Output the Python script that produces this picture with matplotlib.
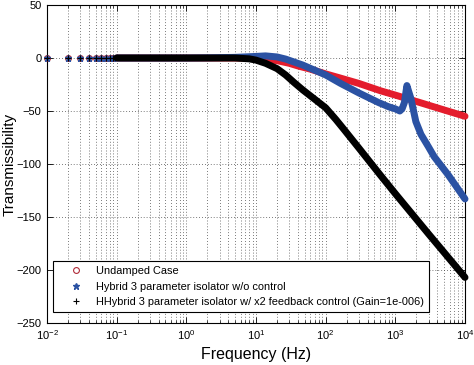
import numpy as np
import matplotlib
matplotlib.use("Agg")
import matplotlib.pyplot as plt

plt.rcParams.update({
    "font.family": ["Liberation Sans", "DejaVu Sans"],
    "mathtext.default": "regular",
    "font.size": 8,
})

# ---- data ----------------------------------------------------------------
f_low = [0.01, 0.02, 0.03, 0.04, 0.05, 0.06, 0.07, 0.08, 0.09, 0.1]

f_undamped = f_low + [0.2, 0.5, 1, 2, 5, 8, 10, 15, 20, 30, 40, 60, 100, 164,
                      300, 618, 1000, 2000, 5000, 10000]
t_undamped = [0] * 10 + [0, 0, 0, 0, 0, -0.2, -0.5, -1.5, -2.5, -5, -7.5, -10.5,
                         -15, -19, -24, -31, -35, -41, -49, -55]

f_hybrid = f_low + [0.2, 0.5, 1, 2, 5, 10, 13.7, 20, 26.6, 46.7, 100, 164, 300,
                    573, 800, 1000, 1160, 1250, 1350, 1420, 1466, 1530, 1670,
                    1970, 2330, 3000, 3600, 5700, 10000]
t_hybrid = [0] * 10 + [0, 0, 0, 0.2, 0.6, 1.5, 2, 1, -1, -6.6, -16, -24, -33,
                       -42, -46, -48, -50, -48, -42, -32, -26, -30, -38,
                       -60, -72, -84, -93, -110, -133]

f_control = f_low + [0.2, 0.5, 1, 2, 5, 8, 10, 13.7, 20, 26.6, 35, 46.7, 70,
                     100, 140, 181, 300, 618, 1000, 3000, 10000]
t_control = [0] * 10 + [0, 0, 0, 0, 0, -0.8, -2, -5, -10, -16, -23, -30, -39,
                        -47, -58, -67, -85, -111, -128, -166, -207]

labels = ["Undamped Case",
          "Hybrid 3 parameter isolator w/o control",
          "HHybrid 3 parameter isolator w/ x2 feedback control (Gain=1e-006)"]

# ---- figure ---------------------------------------------------------------
fig = plt.figure(figsize=(4.74, 3.65), dpi=100)
ax = fig.add_axes([0.0992, 0.1151, 0.8818, 0.8712])

series = [
    (f_undamped, t_undamped, "#e41c2c", dict(marker="o", mfc="none", mec="#b02a38", ms=4.2, mew=0.8)),
    (f_hybrid, t_hybrid, "#2b52a3", dict(marker="*", color="#2b52a3", ms=4.8)),
    (f_control, t_control, "#000000", dict(marker="+", color="#000000", ms=4.8, mew=0.8)),
]
handles = []
for (f, t, c, mk), lab in zip(series, labels):
    f = np.asarray(f, float)
    t = np.asarray(t, float)
    band = f >= 0.1
    # dense markers in the original merge into a thick band
    ax.plot(f[band], t[band], color=c, lw=5.0, solid_capstyle="round",
            solid_joinstyle="round", clip_on=False, zorder=3)
    h, = ax.plot(f[~band], t[~band], ls="none", clip_on=False, zorder=3, **mk)
    handles.append((h, lab))

ax.set_xscale("log")
ax.set_xlim(1e-2, 1e4)
ax.set_ylim(-250, 50)
ax.set_yticks(np.arange(-250, 51, 50))
ax.set_xticks([1e-2, 1e-1, 1e0, 1e1, 1e2, 1e3, 1e4])

ax.grid(True, which="major", ls=(0, (1, 2.5)), color="0.3", lw=0.6)
ax.grid(True, which="minor", axis="x", ls=(0, (1, 2.5)), color="0.3", lw=0.6)
ax.set_axisbelow(True)
ax.tick_params(which="both", direction="in", top=True, right=True)
ax.tick_params(which="major", length=4, width=0.6, labelsize=8, pad=4)
ax.tick_params(which="minor", length=2, width=0.5)
for s in ax.spines.values():
    s.set_linewidth(0.8)

ax.set_xlabel("Frequency (Hz)", fontsize=11.5, labelpad=3)
ax.set_ylabel("Transmissibility", fontsize=11)
ax.yaxis.set_label_coords(-0.072, 0.5)

leg = ax.legend([h for h, _ in handles], [l for _, l in handles],
                loc="lower left", bbox_to_anchor=(0.0144, 0.0346),
                borderaxespad=0, fontsize=7.9, fancybox=False, framealpha=1,
                edgecolor="black", handlelength=3.2, handletextpad=0.3,
                labelspacing=0.5, borderpad=0.45)
leg.get_frame().set_linewidth(0.8)

fig.savefig("out.png", dpi=100)
